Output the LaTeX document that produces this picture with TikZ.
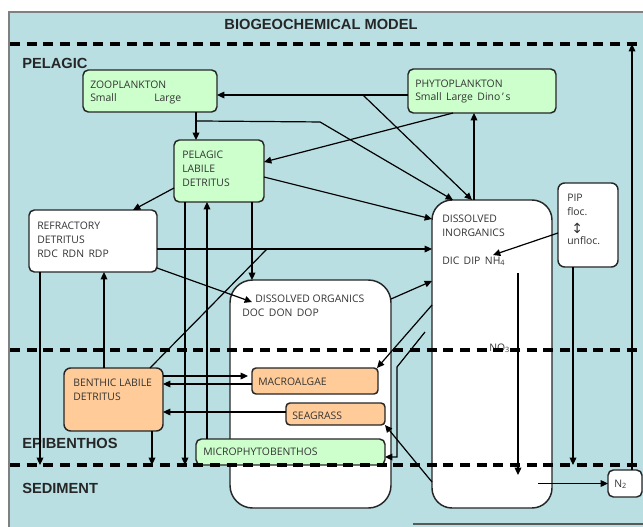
\documentclass[tikz,border=0pt]{standalone}
\usepackage{fontspec}
\setmainfont{Open Sans}
\newfontfamily\headfont{Liberation Sans}
\newfontfamily\glyphfont{DejaVu Sans}
\usetikzlibrary{arrows.meta}

\definecolor{seablue}{HTML}{B9DFE3}
\definecolor{plankgreen}{HTML}{CCFFCC}
\definecolor{benthorange}{HTML}{FFCC99}
\definecolor{inktext}{HTML}{333333}
\definecolor{edgeink}{HTML}{262626}

\begin{document}
\begin{tikzpicture}[x=0.75pt,y=-0.75pt,
  spanbox/.style n args={4}{anchor=north west, at={(#1,#2)},
    minimum width={(#3-#1)*0.75pt}, minimum height={(#4-#2)*0.75pt},
    inner sep=0pt, outer sep=0pt},
  pool/.style={draw=edgeink, line width=1.1pt, rounded corners=4pt},
  green pool/.style={pool, fill=plankgreen},
  orange pool/.style={pool, fill=benthorange, rounded corners=3pt},
  white pool/.style={pool, fill=white},
  lbl/.style={font=\fontsize{7.8}{9}\selectfont, text=inktext, inner sep=0pt, anchor=base west},
  zone/.style={font=\headfont\bfseries\fontsize{11}{12}\selectfont, text=black!85, inner sep=0pt, anchor=base west},
  flow/.style={draw=black, line width=0.9pt, -{Triangle[length=5.5pt,width=5pt]}},
  link/.style={draw=black, line width=0.9pt},
  layer/.style={draw=black, line width=2.3pt, dash pattern=on 7.5pt off 5pt},
]
\clip (0,0) rectangle (643,526);
\fill[white] (0,0) rectangle (643,526);
\path[fill=seablue, draw=gray, line width=1pt] (9,12) rectangle (660,540);
\draw[gray!70!black, line width=1.5pt] (413,524) -- (643,524);

% compartments
\node[green pool, spanbox={83}{70}{217}{112}] (zoo) {};
\node[green pool, spanbox={408}{69}{556}{113}] (phyto) {};
\node[green pool, spanbox={174}{140}{264}{202}] (pld) {};
\node[white pool, spanbox={29}{210}{157}{272}] (refr) {};
\node[white pool, rounded corners=15pt, spanbox={432}{200}{552}{508}] (inorg) {};
\node[white pool, rounded corners=5pt, spanbox={558}{183}{618}{267}] (pip) {};
\node[white pool, rounded corners=17pt, spanbox={230}{280}{391}{508}] (doc) {};
\node[orange pool, rounded corners=5pt, spanbox={64}{368}{163}{431}] (benth) {};
\node[orange pool, spanbox={252}{368}{378}{394}] (macro) {};
\node[orange pool, spanbox={286}{403}{385}{425}] (seag) {};
\node[green pool, spanbox={196}{439}{385}{465}] (mpb) {};
\node[white pool, spanbox={608}{470}{642}{497}] (ntwo) {};

% compartment labels
\node[lbl] (zooA) at (90,88) {ZOOPLANKTON};
\node[lbl] (zooB) at (90,101) {Small};
\node[lbl] (zooC) at (154,101) {Large};
\node[lbl] (phyA) at (415,87) {PHYTOPLANKTON};
\node[lbl] (phyB) at (415,100) {Small\, Large\, Dino\,’\,s};
\node[lbl] (pldA) at (182,158) {PELAGIC};
\node[lbl] (pldB) at (182,172) {LABILE};
\node[lbl] (pldC) at (182,186) {DETRITUS};
\node[lbl] (refA) at (37,229) {REFRACTORY};
\node[lbl] (refB) at (37,243) {DETRITUS};
\node[lbl] (refC) at (37,257) {RDC\, RDN\, RDP};
\node[lbl] (inoA) at (442,222) {DISSOLVED};
\node[lbl] (inoB) at (442,236) {INORGANICS};
\node[lbl] (inoC) at (442,264) {DIC\, DIP\, NH\textsubscript{4}};
\node[lbl] (pipA) at (567,201) {PIP};
\node[lbl] (pipB) at (567,215) {floc.};
\node[lbl, font=\glyphfont\fontsize{10.5}{12}\selectfont] (pipC) at (571,233) {↕};
\node[lbl] (pipD) at (567,244) {unfloc.};
\node[lbl] (docA) at (255,302) {DISSOLVED ORGANICS};
\node[lbl] (docB) at (242,316) {DOC\, DON\, DOP};
\node[lbl] (benA) at (73,386) {BENTHIC LABILE};
\node[lbl] (benB) at (73,400) {DETRITUS};
\node[lbl] (macA) at (258,385) {MACROALGAE};
\node[lbl] (seaA) at (292,419) {SEAGRASS};
\node[lbl] (mpbA) at (203,455) {MICROPHYTOBENTHOS};
\node[lbl] (ntwoA) at (614,487) {N\textsubscript{2}};
\node[lbl] (nothree) at (489,351) {NO\textsubscript{3}};

% layer boundaries
\draw[layer] (10,44) coordinate (topL) -- (643,44);
\draw[layer] (10,350) -- (643,350);
\draw[layer] (10,465) coordinate (sedL) -- (643,465);

% zone titles
\node[zone, anchor=base] (title) at (321,29) {BIOGEOCHEMICAL MODEL};
\node[zone] (pelagic) at (22,68) {PELAGIC};
\node[zone] (epi) at (22,448) {EPIBENTHOS};
\node[zone] (sed) at (22,493) {SEDIMENT};

% pelagic fluxes
\draw[flow] ([shift={(0,4)}]phyto.west) -- coordinate[pos=0.236] (graze) ([shift={(0,4)}]zoo.east);
\draw[flow] (graze) -- ([shift={(40,0)}]inorg.north west);
\draw[flow] ([shift={(-21,0)}]zoo.south east) coordinate (zdrop) -- coordinate[pos=0.32] (zexc) (zdrop |- pld.north);
\draw[flow] (zexc) -- ++(124,1) -- ([shift={(21,0)}]inorg.north west);
\draw[flow] ([shift={(45,0)}]phyto.south west) -- ([shift={(0,22)}]pld.north east);
\draw[flow] ([shift={(42,0)}]inorg.north west) coordinate (uptake) -- (uptake |- phyto.south);
\draw[flow] ([shift={(0,6)}]pld.east) -- ([shift={(0,19)}]inorg.north west);
\draw[flow] ([shift={(0,-14)}]pld.south west) -- ([shift={(-24,0)}]refr.north east);
\draw[flow] ([shift={(0,8)}]refr.east) coordinate (rmin) -- coordinate[pos=0.4] (bjoin) (rmin -| inorg.west);
\draw[link] ([shift={(-13,0)}]benth.north east) -- (bjoin);
\draw[flow] ([shift={(0,-4)}]refr.south east) -- ([shift={(22,22)}]doc.north west);
\draw[flow] ([shift={(-12,0)}]pld.south east) coordinate (pdoc) -- (pdoc |- doc.north);
% sinking and resuspension
\draw[flow] ([shift={(11,0)}]pld.south west) coordinate (psink) -- (psink |- sedL);
\draw[flow] ([shift={(11,0)}]mpb.north west) coordinate (mres) -- (mres |- pld.south);
\draw[flow] ([shift={(11,0)}]refr.south west) coordinate (rsink) -- (rsink |- sedL);
\draw[flow] ([shift={(40,0)}]benth.north west) coordinate (bres) -- (bres |- refr.south);
\draw[flow] ([shift={(-11,0)}]benth.south east) coordinate (bsink) -- (bsink |- sedL);
% epibenthic exchanges
\draw[flow, shorten >=3pt] ([shift={(0,8)}]benth.north east) coordinate (bmac) -- (bmac -| macro.west);
\draw[flow] ([shift={(0,3)}]macro.west) coordinate (mdet) -- (mdet -| benth.east);
\draw[flow] ([shift={(0,-2)}]seag.west) coordinate (sdet) -- (sdet -| benth.east);
\draw[flow] ([shift={(0,19)}]doc.north east) -- ([shift={(0,81)}]inorg.north west);
\draw[flow] ([shift={(0,105)}]inorg.north west) -- ([shift={(-1,0)}]macro.north east);
\draw[flow] ([shift={(-7,132)}]inorg.north west) -- ++(-28,35) |- ([shift={(0,5)}]mpb.east);
\draw[flow] ([shift={(0,-26)}]inorg.south west) -- (seag.south east);
% particulate inorganics and nitrogen loss
\draw[flow] ([shift={(0,8)}]pip.west) -- ([shift={(61,55)}]inorg.north west);
\draw[flow] ([shift={(15,0)}]pip.south west) coordinate (psed) -- (psed |- sedL);
\draw[flow] ([shift={(86,73)}]inorg.north west) -- ++(0,202);
\path (inorg.east |- ntwo.west) coordinate (nlev);
\draw[flow] ([shift={(-14,0)}]nlev) -- (ntwo.west);
\draw[flow] ([shift={(24,0)}]ntwo.north west) coordinate (nout) -- (nout |- topL);
\end{tikzpicture}
\end{document}
